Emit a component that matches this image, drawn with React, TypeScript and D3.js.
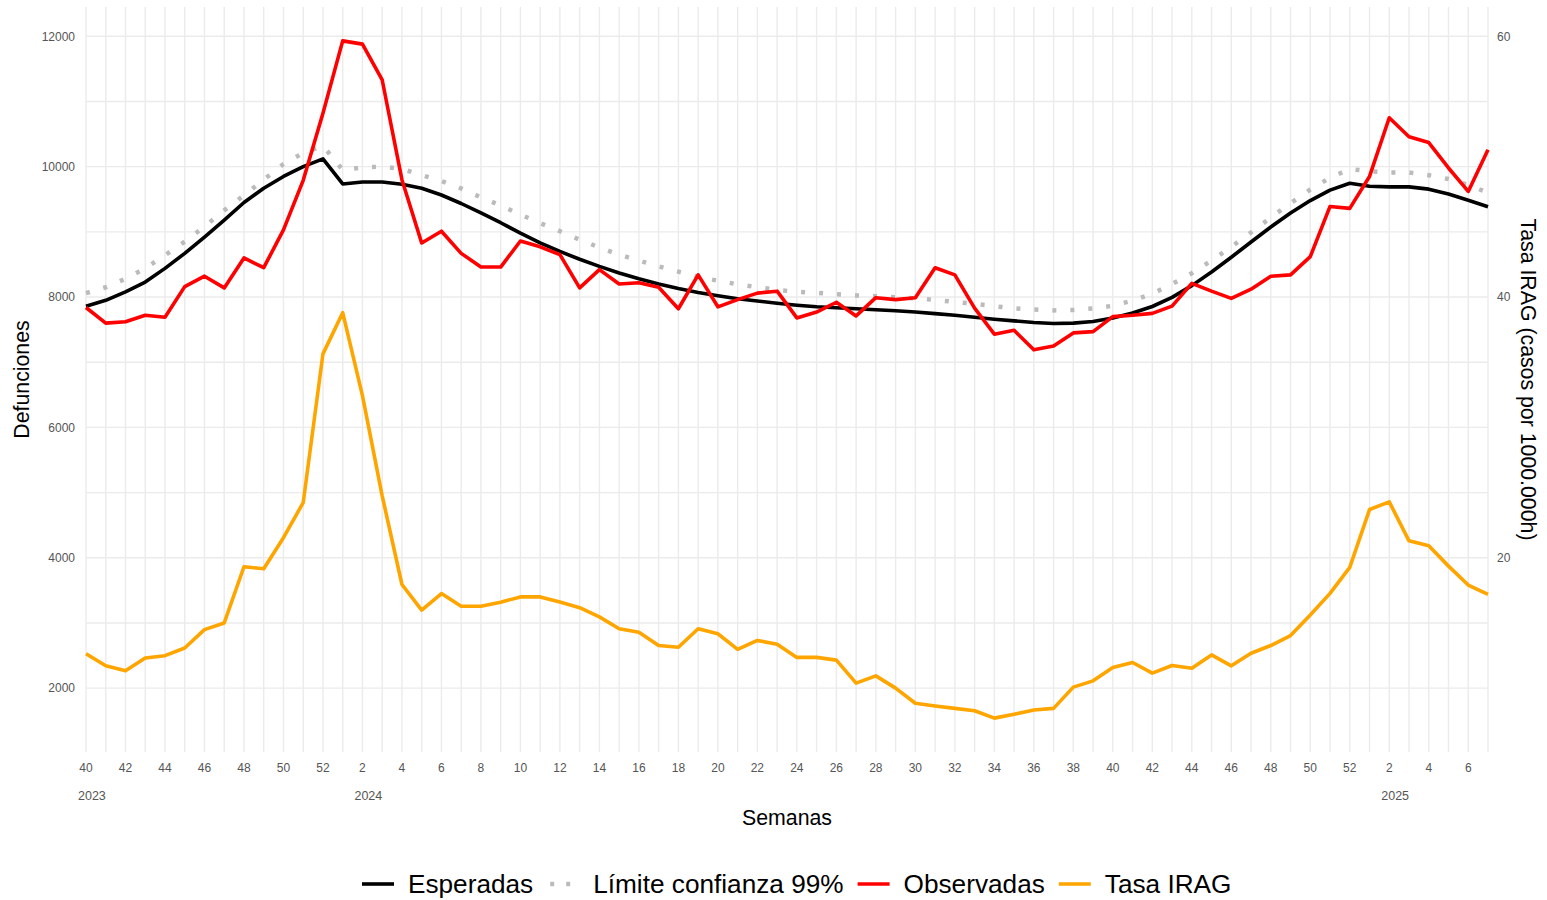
import { useEffect, useRef } from "react";
import * as d3 from "d3";

// semanas epidemiológicas: 2023-40 ... 2025-07
const weeks = [
  40, 41, 42, 43, 44, 45, 46, 47, 48, 49, 50, 51, 52,
  1, 2, 3, 4, 5, 6, 7, 8, 9, 10, 11, 12, 13, 14, 15, 16, 17, 18, 19, 20, 21, 22, 23, 24, 25, 26,
  27, 28, 29, 30, 31, 32, 33, 34, 35, 36, 37, 38, 39, 40, 41, 42, 43, 44, 45, 46, 47, 48, 49, 50, 51, 52,
  1, 2, 3, 4, 5, 6, 7,
];
const years = ["2023", "2024", "2025"];

const esperadas = [
  7860, 7950, 8080, 8230, 8440, 8670, 8920, 9180, 9450, 9670, 9850, 10000, 10120,
  9735, 9765, 9765, 9730, 9670, 9565, 9435, 9290, 9140, 8980, 8830,
  8700, 8580, 8470, 8370, 8280, 8200, 8130, 8070, 8020, 7975, 7940, 7905, 7875, 7850, 7835, 7820,
  7805, 7790, 7770, 7745, 7720, 7690, 7660, 7635,
  7610, 7595, 7600, 7625, 7680, 7755, 7855, 7995, 8175, 8385, 8610, 8845, 9075, 9290, 9480, 9640,
  9745, 9700, 9690, 9690, 9655, 9580, 9485, 9385,
];

const limite = [
  8060, 8150, 8280, 8440, 8640, 8850, 9080, 9330, 9560, 9800, 10040, 10210, 10320,
  9950, 9990, 10000, 9965, 9870, 9780, 9665, 9530, 9405, 9265, 9135,
  9010, 8880, 8760, 8650, 8560, 8470, 8390, 8310, 8250, 8195, 8150, 8110, 8080, 8065, 8042, 8025,
  8013, 7998, 7980, 7955, 7925, 7895, 7860, 7825,
  7810, 7795, 7803, 7825, 7866, 7945, 8050, 8200, 8365, 8560, 8770, 8990, 9220, 9440, 9650, 9830,
  9964, 9930, 9910, 9910, 9870, 9810, 9720, 9600,
];

const observadas = [
  7840, 7600, 7620, 7720, 7690, 8160, 8320, 8140, 8600, 8450, 9030, 9790, 10820,
  11930, 11880, 11330, 9800, 8830, 9010, 8670, 8460, 8460, 8860, 8770,
  8650, 8140, 8420, 8200, 8220, 8150, 7820, 8340, 7850, 7960, 8060, 8090, 7680, 7770, 7920, 7710,
  7990, 7960, 7990, 8450, 8340, 7830, 7430, 7490,
  7190, 7250, 7450, 7470, 7700, 7720, 7750, 7860, 8210, 8090, 7980, 8120, 8320, 8340, 8620, 9390,
  9360, 9850, 10750, 10460, 10370, 9980, 9620, 10260,
];

// tasa IRAG (casos por 100.000 h), eje derecho
const tasa = [
  12.64, 11.72, 11.34, 12.31, 12.49, 13.08, 14.49, 15.0, 19.31, 19.16, 21.54, 24.23, 35.64,
  38.8, 32.44, 24.75, 17.95, 15.98, 17.26, 16.28, 16.28, 16.59, 17.0, 17.0,
  16.6, 16.17, 15.47, 14.56, 14.28, 13.27, 13.14, 14.56, 14.17, 12.98, 13.66, 13.37, 12.36, 12.36,
  12.15, 10.39, 10.94, 10.0, 8.84, 8.63, 8.45, 8.27, 7.7, 8.0,
  8.33, 8.45, 10.08, 10.56, 11.58, 11.97, 11.15, 11.74, 11.53, 12.55, 11.71, 12.68, 13.27, 14.03,
  15.61, 17.27, 19.26, 23.7, 24.29, 21.3, 20.92, 19.36, 17.91, 17.2,
];
const escala = 200; // tasa * 200 -> eje izquierdo

const leftTicks = [2000, 4000, 6000, 8000, 10000, 12000];
const rightTicks = [20, 40, 60];

const series = [
  { name: "Esperadas", color: "#000000", dotted: false },
  { name: "Límite confianza 99%", color: "#BBBBBB", dotted: true },
  { name: "Observadas", color: "#FF0000", dotted: false },
  { name: "Tasa IRAG", color: "#FFA500", dotted: false },
];

const width = 1547;
const height = 900;
const font = "'Liberation Sans', Arial, Helvetica, sans-serif";

const App = () => {
  const ref = useRef<SVGSVGElement | null>(null);

  useEffect(() => {
    const svg = d3.select(ref.current);
    svg.selectAll("*").remove();

    const marginLeft = 86;
    const marginRight = 59;
    const marginTop = 7;
    const marginBottom = 148;
    const lw = 3.6;
    const titleSize = 21.3;

    const x = d3.scaleLinear()
      .domain([0, weeks.length - 1])
      .range([marginLeft, width - marginRight]);

    const all = [...esperadas, ...limite, ...observadas, ...tasa.map(d => d * escala)];
    const [lo, hi] = d3.extent(all) as [number, number];
    const pad = (hi - lo) * 0.05;
    const y = d3.scaleLinear()
      .domain([lo - pad, hi + pad])
      .range([height - marginBottom, marginTop]);
    const yRight = d3.scaleLinear()
      .domain(y.domain().map(d => d / escala))
      .range(y.range());

    // grid
    const grid = svg.append("g").attr("stroke", "#EBEBEB").attr("stroke-width", 1.4);
    grid.selectAll("line.v")
      .data(d3.range(weeks.length))
      .join("line")
      .attr("class", "v")
      .attr("x1", i => x(i)).attr("x2", i => x(i))
      .attr("y1", marginTop).attr("y2", height - marginBottom);
    const hy = d3.range(Math.ceil(y.domain()[0] / 1000) * 1000, y.domain()[1], 1000);
    grid.selectAll("line.h")
      .data(hy)
      .join("line")
      .attr("class", "h")
      .attr("x1", marginLeft).attr("x2", width - marginRight)
      .attr("y1", d => y(d)).attr("y2", d => y(d));

    // axes labels
    const tickColor = "#555555";
    svg.append("g")
      .selectAll("text")
      .data(leftTicks)
      .join("text")
      .attr("x", marginLeft - 11)
      .attr("y", d => y(d))
      .attr("dy", "0.35em")
      .attr("text-anchor", "end")
      .attr("font-family", font)
      .attr("font-size", 12)
      .attr("fill", tickColor)
      .text(d => d);

    svg.append("g")
      .selectAll("text")
      .data(rightTicks)
      .join("text")
      .attr("x", width - marginRight + 9)
      .attr("y", d => yRight(d))
      .attr("dy", "0.35em")
      .attr("text-anchor", "start")
      .attr("font-family", font)
      .attr("font-size", 12)
      .attr("fill", tickColor)
      .text(d => d);

    const labeled = d3.range(weeks.length).filter(i => weeks[i] % 2 === 0);
    svg.append("g")
      .selectAll("text")
      .data(labeled)
      .join("text")
      .attr("x", i => x(i))
      .attr("y", height - marginBottom + 20)
      .attr("text-anchor", "middle")
      .attr("font-family", font)
      .attr("font-size", 12)
      .attr("fill", tickColor)
      .text(i => weeks[i]);

    // year under the first labelled week of each year
    const yearIdx: number[] = [];
    let yr = 0;
    let seen = false;
    weeks.forEach((w, i) => {
      if (i > 0 && w < weeks[i - 1]) { yr += 1; seen = false; }
      if (!seen && w % 2 === 0) { yearIdx[yr] = i; seen = true; }
    });
    svg.append("g")
      .selectAll("text")
      .data(years)
      .join("text")
      .attr("x", (d, k) => x(yearIdx[k]) - 8)
      .attr("y", height - marginBottom + 48)
      .attr("text-anchor", "start")
      .attr("font-family", font)
      .attr("font-size", 12.5)
      .attr("fill", tickColor)
      .text(d => d);

    // titles
    const midY = (marginTop + height - marginBottom) / 2;
    svg.append("text")
      .attr("transform", `translate(22,${midY}) rotate(-90)`)
      .attr("dy", "0.35em")
      .attr("text-anchor", "middle")
      .attr("font-family", font)
      .attr("font-size", titleSize)
      .attr("fill", "#000")
      .text("Defunciones");
    svg.append("text")
      .attr("transform", `translate(1528,${midY}) rotate(90)`)
      .attr("dy", "0.35em")
      .attr("text-anchor", "middle")
      .attr("font-family", font)
      .attr("font-size", titleSize)
      .attr("fill", "#000")
      .text("Tasa IRAG (casos por 1000.000h)");
    svg.append("text")
      .attr("x", (marginLeft + width - marginRight) / 2)
      .attr("y", 825)
      .attr("text-anchor", "middle")
      .attr("font-family", font)
      .attr("font-size", titleSize)
      .attr("fill", "#000")
      .text("Semanas");

    // lines
    const line = (vals: number[], sc: d3.ScaleLinear<number, number>) =>
      d3.line<number>().x((d, i) => x(i)).y(d => sc(d))(vals);

    svg.append("path")
      .attr("d", line(limite, y))
      .attr("fill", "none")
      .attr("stroke", series[1].color)
      .attr("stroke-width", 4.5)
      .attr("stroke-dasharray", "4 14");
    svg.append("path")
      .attr("d", line(esperadas, y))
      .attr("fill", "none")
      .attr("stroke", series[0].color)
      .attr("stroke-width", lw)
      .attr("stroke-linejoin", "round");
    svg.append("path")
      .attr("d", line(observadas, y))
      .attr("fill", "none")
      .attr("stroke", series[2].color)
      .attr("stroke-width", lw)
      .attr("stroke-linejoin", "round");
    svg.append("path")
      .attr("d", line(tasa, yRight))
      .attr("fill", "none")
      .attr("stroke", series[3].color)
      .attr("stroke-width", lw)
      .attr("stroke-linejoin", "round");

    // legend
    const ly = 884;
    const keyW = 32;
    let lx = 362;
    series.forEach(s => {
      svg.append("line")
        .attr("x1", lx + (s.dotted ? 3 : 0)).attr("x2", lx + keyW)
        .attr("y1", ly).attr("y2", ly)
        .attr("stroke", s.color)
        .attr("stroke-width", s.dotted ? 4.5 : lw)
        .attr("stroke-dasharray", s.dotted ? "4 12" : null);
      const t = svg.append("text")
        .attr("x", lx + keyW + 14)
        .attr("y", ly)
        .attr("dy", "0.35em")
        .attr("font-family", font)
        .attr("font-size", 26.2)
        .attr("fill", "#000")
        .text(s.name);
      const tw = (t.node() as SVGTextElement).getComputedTextLength();
      lx = lx + keyW + 14 + tw + 14;
    });
  }, []);

  return (
    <svg
      ref={ref}
      width={width}
      height={height}
      style={{ position: "absolute", left: 0, top: 0, background: "#fff" }}
    />
  );
};

export default App;
